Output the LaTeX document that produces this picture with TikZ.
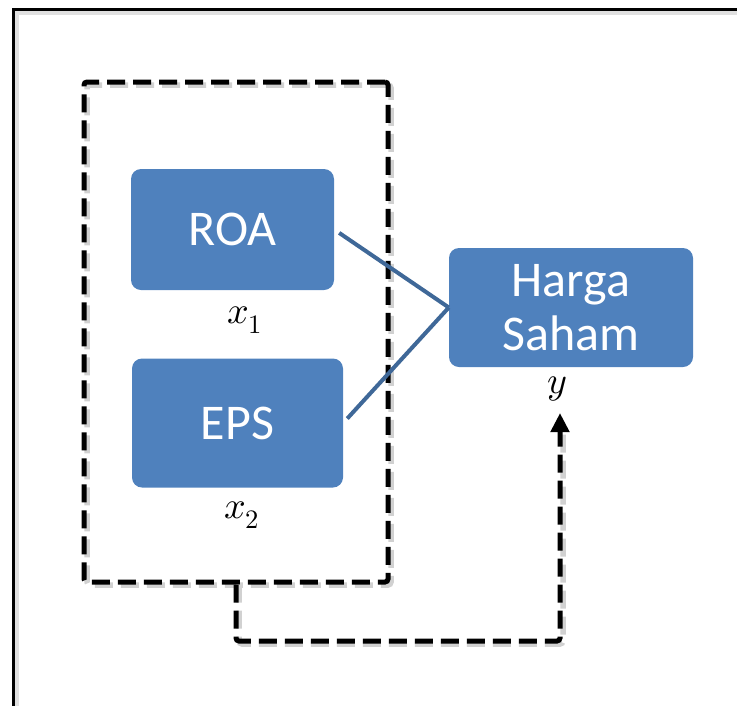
\documentclass[tikz,border=0pt]{standalone}
\usepackage{fontspec}
\usepackage{unicode-math}
\setmainfont{Carlito}
\setmathfont{Latin Modern Math}
\usetikzlibrary{arrows.meta}
\definecolor{boxblue}{HTML}{4F81BD}
\definecolor{lineblue}{HTML}{3F6898}
\begin{document}
\begin{tikzpicture}[x=1pt,y=-1pt,
  bluebox/.style={draw=none,fill=boxblue,rounded corners=10pt,text=white,
    font=\fontsize{50}{54}\selectfont,inner sep=0pt,align=center},
  mathlab/.style={font=\fontsize{38}{44}\selectfont,inner sep=0pt},
  dashline/.style={line width=5pt,dash pattern=on 18pt off 8pt,rounded corners=3pt},
  shadowline/.style={line width=5.5pt,draw=black!18,dash pattern=on 18pt off 8pt,rounded corners=3pt},
  joinline/.style={draw=lineblue,line width=4pt,shorten <=6pt}]
\useasboundingbox (0,0) rectangle (737,705);
% outer frame
\begin{scope}
\clip (0,0) rectangle (737,705);
\draw[line width=6pt,black!12] (16,12) rectangle (760,730);
\draw[line width=3pt,black] (13,9) rectangle (760,730);
\end{scope}
% group box
\node[shadowline,draw=black!18,minimum width=304pt,minimum height=500pt] at (239,335) {};
\node (grp)[dashline,draw=black,minimum width=304pt,minimum height=500pt] at (236,332) {};
% boxes
\node (roa)[bluebox,minimum width=203pt,minimum height=121pt] at (232.5,229.5) {ROA};
\node (eps)[bluebox,minimum width=211pt,minimum height=129pt] at (237.5,423) {EPS};
\node (hs)[bluebox,minimum width=244pt,minimum height=119pt] at (571,307.5) {Harga\\Saham};
% labels
\node (x1)[mathlab] at (245,320) {$x_1$};
\node (x2)[mathlab] at (242,515) {$x_2$};
\node (y)[mathlab] at (557,389) {$y$};
% joining lines
\draw[joinline] (roa.east) -- (hs.west);
\draw[joinline] (eps.east) -- (hs.west);
% feedback connector
\coordinate (c1) at (236,641);
\coordinate (c2) at (560,641);
\coordinate (tip) at (560,413);
\draw[shadowline] ([shift={(3,0)}]grp.south) -- ([shift={(3,3)}]c1) -- ([shift={(3,3)}]c2) -- ([shift={(3,20)}]tip);
\draw[dashline,-{Triangle[length=19pt,width=18pt]}] (grp.south) -- (c1) -- (c2) -- (tip);
\end{tikzpicture}
\end{document}
